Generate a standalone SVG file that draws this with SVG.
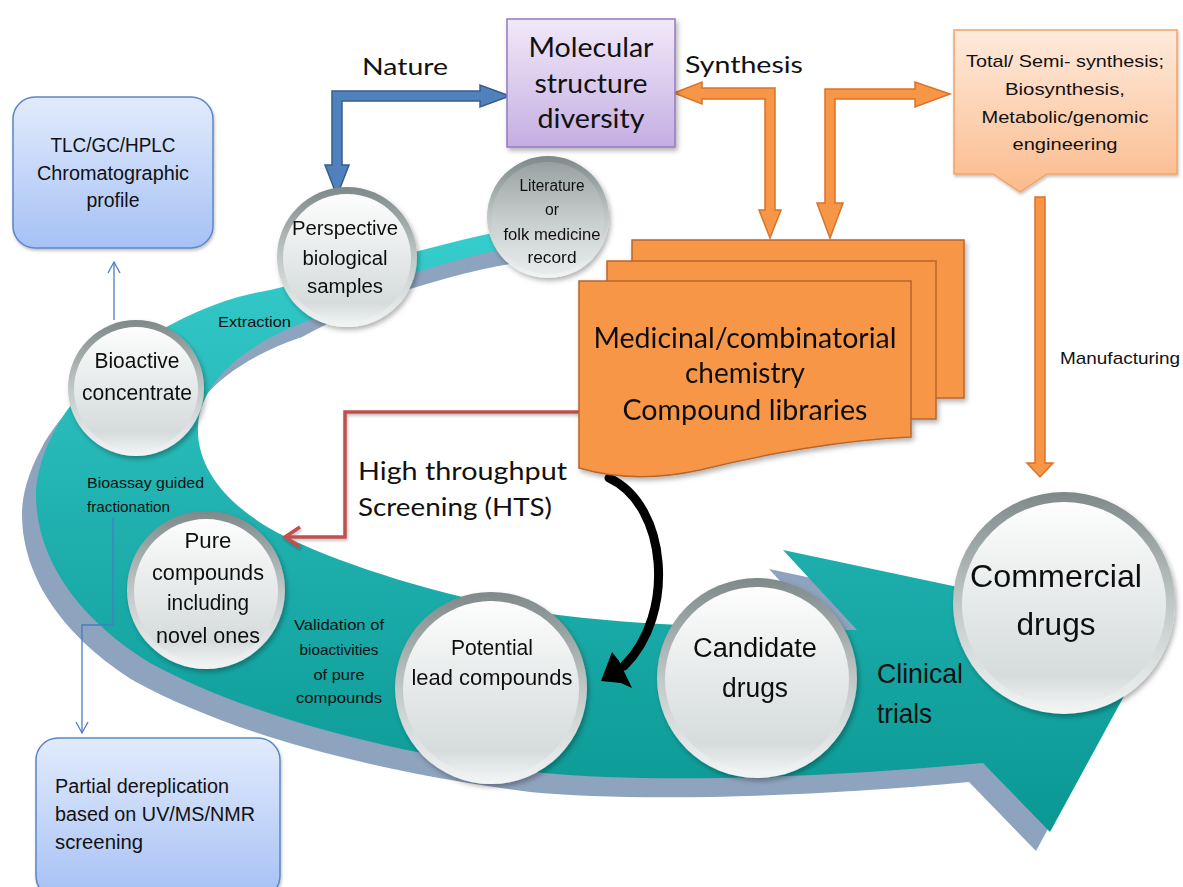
<svg xmlns="http://www.w3.org/2000/svg" width="1183" height="887" viewBox="0 0 1183 887">
<defs>
<style>
.cal{font-family:Lato,"Liberation Sans",sans-serif;fill:#111}
.ar{font-family:"Liberation Sans",Arial,sans-serif;fill:#111}
.mid{text-anchor:middle}
.orng{fill:#f79646;stroke:#d9732a;stroke-width:1.5;stroke-linejoin:miter}
.doc{fill:#f79646;stroke:#b9662c;stroke-width:1.5}
.thin{fill:none;stroke:#4a7bc4;stroke-width:1.3}
</style>
<linearGradient id="teal" gradientUnits="userSpaceOnUse" x1="0" y1="230" x2="0" y2="830">
<stop offset="0" stop-color="#36cdcd"/><stop offset="0.5" stop-color="#1fb0ae"/><stop offset="1" stop-color="#0a9893"/>
</linearGradient>
<linearGradient id="rim" x1="0" y1="0" x2="0" y2="1">
<stop offset="0" stop-color="#7f8989"/><stop offset="0.5" stop-color="#c0c7c7"/><stop offset="1" stop-color="#f3f5f5"/>
</linearGradient>
<linearGradient id="face" x1="0" y1="0" x2="0" y2="1">
<stop offset="0" stop-color="#fdfdfd"/><stop offset="0.6" stop-color="#e1e5e5"/><stop offset="0.85" stop-color="#d6dbdb"/><stop offset="1" stop-color="#eef1f1"/>
</linearGradient>
<linearGradient id="faceDark" x1="0" y1="0" x2="0" y2="1">
<stop offset="0" stop-color="#98a1a1"/><stop offset="0.5" stop-color="#c6cccc"/><stop offset="1" stop-color="#e9ecec"/>
</linearGradient>
<linearGradient id="blueBox" x1="0" y1="0" x2="0" y2="1">
<stop offset="0" stop-color="#e2ebfc"/><stop offset="1" stop-color="#a6c1f5"/>
</linearGradient>
<linearGradient id="purpleBox" x1="0" y1="0" x2="0" y2="1">
<stop offset="0" stop-color="#f1e9f9"/><stop offset="1" stop-color="#c5aee2"/>
</linearGradient>
<linearGradient id="peachBox" x1="0" y1="0" x2="0" y2="1">
<stop offset="0" stop-color="#feeadc"/><stop offset="1" stop-color="#fbbb8c"/>
</linearGradient>
<filter id="sh" x="-20%" y="-20%" width="140%" height="140%">
<feDropShadow dx="2" dy="3" stdDeviation="2.5" flood-color="#000" flood-opacity="0.3"/>
</filter>
<filter id="shs" x="-20%" y="-20%" width="140%" height="140%">
<feDropShadow dx="1" dy="2" stdDeviation="1.5" flood-color="#000" flood-opacity="0.25"/>
</filter>
</defs>
<rect width="1183" height="887" fill="#fff"/>

<g id="band">
<path id="bandShadow" transform="translate(-14,19)" fill="#8ea3be" d="M530 226 L483 235 C440 245 400 256 360 267 C320 278 290 286 260 292 C200 302 95 355 55 430 C40 458 36 480 36 495 C36 560 80 620 150 663 C240 712 380 752 544 773 C640 782 800 780 983 763 L1050 832 L1160 630 L783 550 L857 630 C780 629 640 627 544 613 C450 599 340 565 278 533 C230 507 196 470 198 426 C200 380 250 340 316 318 C350 300 385 283 417 272 C450 262 490 250 530 244 Z"/>
<path id="bandTeal" fill="url(#teal)" d="M530 226 L483 235 C440 245 400 256 360 267 C320 278 290 286 260 292 C200 302 95 355 55 430 C40 458 36 480 36 495 C36 560 80 620 150 663 C240 712 380 752 544 773 C640 782 800 780 983 763 L1050 832 L1160 630 L783 550 L857 630 C780 629 640 627 544 613 C450 599 340 565 278 533 C230 507 196 470 198 426 C200 380 250 340 316 318 C350 300 385 283 417 272 C450 262 490 250 530 244 Z"/>
<text class="ar" x="218" y="327" font-size="15" textLength="73" lengthAdjust="spacingAndGlyphs">Extraction</text>
<text class="ar" x="87" y="488" font-size="15" textLength="117" lengthAdjust="spacingAndGlyphs">Bioassay guided</text>
<text class="ar" x="87" y="512" font-size="15" textLength="83" lengthAdjust="spacingAndGlyphs">fractionation</text>
<text class="ar mid" x="339" y="630" font-size="15" textLength="90" lengthAdjust="spacingAndGlyphs">Validation  of</text>
<text class="ar mid" x="339" y="655" font-size="15" textLength="79" lengthAdjust="spacingAndGlyphs">bioactivities</text>
<text class="ar mid" x="339" y="680" font-size="15" textLength="51" lengthAdjust="spacingAndGlyphs">of pure</text>
<text class="ar mid" x="339" y="703" font-size="15" textLength="86" lengthAdjust="spacingAndGlyphs">compounds</text>
<text class="ar" x="877" y="683" font-size="28" textLength="86" lengthAdjust="spacingAndGlyphs">Clinical</text>
<text class="ar" x="877" y="723" font-size="28" textLength="55" lengthAdjust="spacingAndGlyphs">trials</text>
</g>

<g id="connectors">
<path id="natureArrow" fill="#4f81bd" stroke="#385d8a" stroke-width="1.5" stroke-linejoin="miter" d="M510 96 L480 85 L480 91 L332 91 L332 165 L325 165 L337 196 L349 165 L342 165 L342 101 L480 101 L480 107 Z"/>
<path id="synthLeft" class="orng" d="M674 93 L702 82 L702 88 L775 88 L775 210 L781 210 L770 238 L759 210 L765 210 L765 99 L702 99 L702 104 Z"/>
<path id="synthRight" class="orng" d="M950 94 L915 82 L915 89 L825 89 L825 203 L817 203 L830 238 L843 203 L835 203 L835 99 L915 99 L915 107 Z"/>
<path id="manufArrow" class="orng" d="M1035 197 L1045 197 L1045 463 L1053 463 L1040 477 L1027 463 L1035 463 Z"/>
<g id="thinUp"><path class="thin" d="M114 320 V262"/><path class="thin" d="M108 273 L114 262 L120 273"/></g>
<g id="thinDown"><path class="thin" d="M113 518 V625 H82 V733"/><path class="thin" d="M76 722 L82 733 L88 722"/></g>
<g id="redArrow" filter="url(#shs)"><path fill="none" stroke="#c0504d" stroke-width="3.5" d="M580 412 H345 V537 H286"/><path fill="none" stroke="#c0504d" stroke-width="3.5" d="M300 527 L285 537 L300 547"/></g>
<g id="htsArrow"><path fill="none" stroke="#000" stroke-width="9" stroke-linecap="round" d="M609 478 C668 505 676 615 624 666"/><path fill="#000" d="M601 681 L612 652 L619 661 L632 688 L621 683 Z"/></g>
</g>

<g id="docStack" filter="url(#sh)">
<rect class="doc" x="632" y="240" width="332" height="158"/>
<rect class="doc" x="607" y="261" width="329" height="158"/>
<path class="doc" d="M579 281 H911 V437 C840 440 760 455 700 470 C650 481 610 477 579 468 Z"/>
<text class="cal mid" x="745" y="348" font-size="28" textLength="303" lengthAdjust="spacingAndGlyphs">Medicinal/combinatorial</text>
<text class="cal mid" x="745" y="383" font-size="28" textLength="120" lengthAdjust="spacingAndGlyphs">chemistry</text>
<text class="cal mid" x="745" y="420" font-size="28" textLength="245" lengthAdjust="spacingAndGlyphs">Compound libraries</text>
</g>

<g id="molecular">
<rect x="507" y="19" width="168" height="128" fill="url(#purpleBox)" stroke="#9479c0" stroke-width="1.5" filter="url(#sh)"/>
<text class="cal mid" x="591" y="57" font-size="26" textLength="125" lengthAdjust="spacingAndGlyphs">Molecular</text>
<text class="cal mid" x="591" y="93" font-size="26" textLength="113" lengthAdjust="spacingAndGlyphs">structure</text>
<text class="cal mid" x="591" y="128" font-size="26" textLength="107" lengthAdjust="spacingAndGlyphs">diversity</text>
</g>

<g id="totalSynth">
<path d="M954 30 H1177 V174 H1047 L1020 192 L993 174 H954 Z" fill="url(#peachBox)" stroke="#f5a266" stroke-width="1.5" filter="url(#shs)"/>
<text class="ar mid" x="1065" y="67" font-size="17" textLength="198" lengthAdjust="spacingAndGlyphs">Total/ Semi- synthesis;</text>
<text class="ar mid" x="1065" y="95" font-size="17" textLength="120" lengthAdjust="spacingAndGlyphs">Biosynthesis,</text>
<text class="ar mid" x="1065" y="123" font-size="17" textLength="167" lengthAdjust="spacingAndGlyphs">Metabolic/genomic</text>
<text class="ar mid" x="1065" y="150" font-size="17" textLength="105" lengthAdjust="spacingAndGlyphs">engineering</text>
</g>

<g id="tlc">
<rect x="13" y="97" width="200" height="151" rx="22" fill="url(#blueBox)" stroke="#5b86c6" stroke-width="1.5" filter="url(#shs)"/>
<text class="ar mid" x="113" y="152" font-size="20" textLength="125" lengthAdjust="spacingAndGlyphs">TLC/GC/HPLC</text>
<text class="ar mid" x="113" y="180" font-size="20" textLength="152" lengthAdjust="spacingAndGlyphs">Chromatographic</text>
<text class="ar mid" x="113" y="207" font-size="20" textLength="53" lengthAdjust="spacingAndGlyphs">profile</text>
</g>

<g id="dereplication">
<rect x="36" y="738" width="244" height="160" rx="22" fill="url(#blueBox)" stroke="#5b86c6" stroke-width="1.5" filter="url(#shs)"/>
<text class="ar" x="55" y="793" font-size="20" textLength="174" lengthAdjust="spacingAndGlyphs">Partial dereplication</text>
<text class="ar" x="55" y="821" font-size="20" textLength="200" lengthAdjust="spacingAndGlyphs">based on UV/MS/NMR</text>
<text class="ar" x="55" y="849" font-size="20" textLength="88" lengthAdjust="spacingAndGlyphs">screening</text>
</g>

<g id="labels">
<text class="cal" x="362" y="75" font-size="24" textLength="86" lengthAdjust="spacingAndGlyphs">Nature</text>
<text class="cal" x="685" y="73" font-size="24" textLength="118" lengthAdjust="spacingAndGlyphs">Synthesis</text>
<text class="cal" x="358" y="480" font-size="25" textLength="209" lengthAdjust="spacingAndGlyphs">High throughput</text>
<text class="cal" x="358" y="516" font-size="25" textLength="194" lengthAdjust="spacingAndGlyphs">Screening (HTS)</text>
<text class="ar" x="1060" y="364" font-size="17" textLength="120" lengthAdjust="spacingAndGlyphs">Manufacturing</text>
</g>

<g id="literature" filter="url(#sh)">
<circle cx="548" cy="217" r="61" fill="url(#rim)"/>
<circle cx="548" cy="218" r="56" fill="url(#faceDark)"/>
<text class="ar mid" x="552" y="191" font-size="16" textLength="65" lengthAdjust="spacingAndGlyphs">Literature</text>
<text class="ar mid" x="552" y="215" font-size="16" textLength="14" lengthAdjust="spacingAndGlyphs">or</text>
<text class="ar mid" x="552" y="240" font-size="16" textLength="97" lengthAdjust="spacingAndGlyphs">folk medicine</text>
<text class="ar mid" x="552" y="263" font-size="16" textLength="49" lengthAdjust="spacingAndGlyphs">record</text>
</g>

<g id="perspective" filter="url(#sh)">
<circle cx="347" cy="257" r="70" fill="url(#rim)"/>
<circle cx="347" cy="258" r="64" fill="url(#face)"/>
<text class="ar mid" x="345" y="235" font-size="20" textLength="106" lengthAdjust="spacingAndGlyphs">Perspective</text>
<text class="ar mid" x="345" y="265" font-size="20" textLength="85" lengthAdjust="spacingAndGlyphs">biological</text>
<text class="ar mid" x="345" y="293" font-size="20" textLength="76" lengthAdjust="spacingAndGlyphs">samples</text>
</g>

<g id="bioactive" filter="url(#sh)">
<circle cx="136" cy="388" r="68" fill="url(#rim)"/>
<circle cx="136" cy="389" r="62" fill="url(#face)"/>
<text class="ar mid" x="137" y="368" font-size="22" textLength="85" lengthAdjust="spacingAndGlyphs">Bioactive</text>
<text class="ar mid" x="137" y="400" font-size="22" textLength="110" lengthAdjust="spacingAndGlyphs">concentrate</text>
</g>

<g id="pure" filter="url(#sh)">
<circle cx="206" cy="590" r="79" fill="url(#rim)"/>
<circle cx="206" cy="591" r="72" fill="url(#face)"/>
<text class="ar mid" x="208" y="548" font-size="22" textLength="47" lengthAdjust="spacingAndGlyphs">Pure</text>
<text class="ar mid" x="208" y="580" font-size="22" textLength="112" lengthAdjust="spacingAndGlyphs">compounds</text>
<text class="ar mid" x="208" y="610" font-size="22" textLength="82" lengthAdjust="spacingAndGlyphs">including</text>
<text class="ar mid" x="208" y="643" font-size="22" textLength="104" lengthAdjust="spacingAndGlyphs">novel ones</text>
</g>

<g id="potential" filter="url(#sh)">
<circle cx="491" cy="688" r="96" fill="url(#rim)"/>
<circle cx="491" cy="689" r="88" fill="url(#face)"/>
<text class="ar mid" x="492" y="655" font-size="22" textLength="82" lengthAdjust="spacingAndGlyphs">Potential</text>
<text class="ar mid" x="492" y="685" font-size="22" textLength="161" lengthAdjust="spacingAndGlyphs">lead compounds</text>
</g>

<g id="candidate" filter="url(#sh)">
<circle cx="757" cy="678" r="100" fill="url(#rim)"/>
<circle cx="757" cy="679" r="92" fill="url(#face)"/>
<text class="ar mid" x="755" y="657" font-size="27" textLength="124" lengthAdjust="spacingAndGlyphs">Candidate</text>
<text class="ar mid" x="755" y="697" font-size="27" textLength="66" lengthAdjust="spacingAndGlyphs">drugs</text>
</g>

<g id="commercial" filter="url(#sh)">
<circle cx="1064" cy="603" r="111" fill="url(#rim)"/>
<circle cx="1064" cy="604" r="102" fill="url(#face)"/>
<text class="ar mid" x="1056" y="587" font-size="32" textLength="172" lengthAdjust="spacingAndGlyphs">Commercial</text>
<text class="ar mid" x="1056" y="635" font-size="32" textLength="79" lengthAdjust="spacingAndGlyphs">drugs</text>
</g>
</svg>
